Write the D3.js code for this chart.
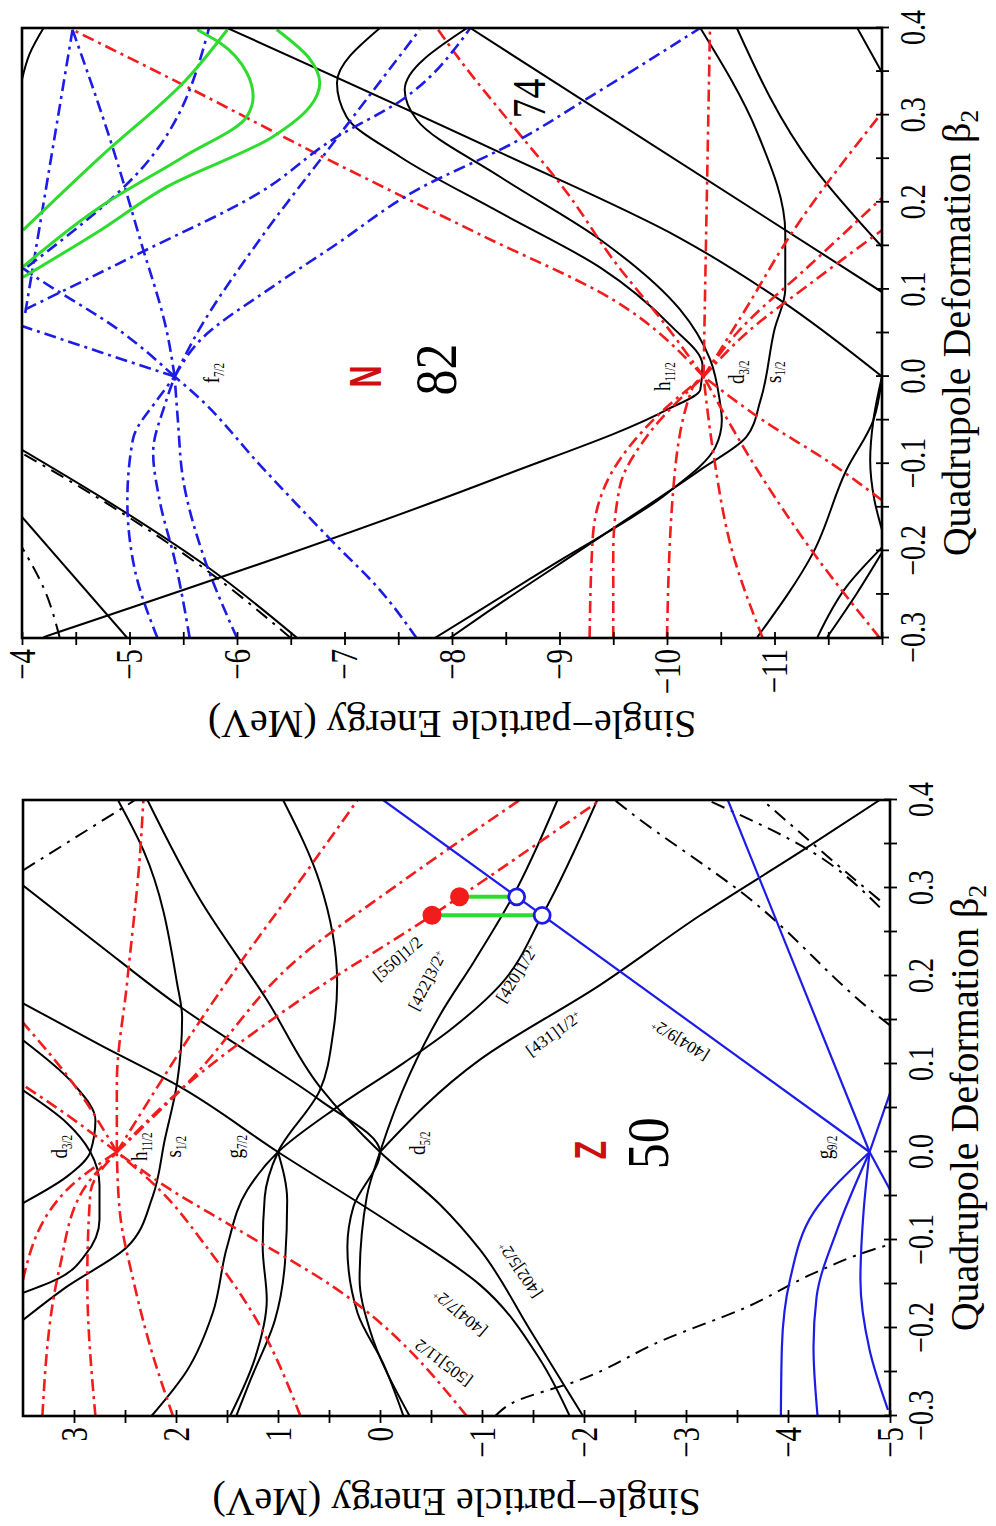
<!DOCTYPE html>
<html>
<head>
<meta charset="utf-8">
<script src="https://cdn.jsdelivr.net/npm/d3@7"></script>
<style>
body { margin: 0; background: #fff; }
text { font-family: "Liberation Serif", "Times New Roman", serif; }
</style>
</head>
<body>
<script>
var w = 996;
var h = 1526;

// ---------- axis ticks ----------
var betaTicks = [-0.3, -0.2, -0.1, 0.0, 0.1, 0.2, 0.3, 0.4];
var betaMinor = [-0.25, -0.15, -0.05, 0.05, 0.15, 0.25, 0.35];
var energyTicksN = [-4, -5, -6, -7, -8, -9, -10, -11];
var energyMinorN = [-4.5, -5.5, -6.5, -7.5, -8.5, -9.5, -10.5, -11.5, -12];
var energyTicksZ = [3, 2, 1, 0, -1, -2, -3, -4, -5];
var energyMinorZ = [2.5, 1.5, 0.5, -0.5, -1.5, -2.5, -3.5, -4.5];

// ---------- N = 82 panel : [beta2, energy] ----------
// green levels
var nGreenA = [[0.126,-4.01],[0.195,-4.73],[0.252,-5.5],[0.298,-6.09],[0.321,-6.15],[0.349,-6.09],[0.383,-5.84],[0.398,-5.63]];
var nGreenB = [[0.114,-4.01],[0.168,-4.73],[0.218,-5.35],[0.275,-6.33],[0.31,-6.68],[0.337,-6.77],[0.364,-6.68],[0.398,-6.37]];
var nGreenC = [[0.168,-4.01],[0.252,-4.73],[0.341,-5.53],[0.398,-5.91]];
// blue f7/2 family and others
var nBlue1 = [[0,-5.42],[0.028,-4.73],[0.058,-4.0]];
var nBlue2 = [[0,-5.42],[0.05,-4.94],[0.119,-4.07],[0.125,-4.0]];
var nBlue3 = [[0,-5.42],[0.05,-5.35],[0.157,-5.1],[0.272,-4.82],[0.398,-4.47]];
var nBlue4 = [[0,-5.42],[0.05,-5.63],[0.157,-6.21],[0.264,-6.87],[0.398,-7.7]];
var nBlue5 = [[0,-5.42],[0.042,-5.66],[0.103,-6.33],[0.149,-6.89],[0.214,-7.67],[0.268,-8.57],[0.326,-9.35],[0.4,-10.31]];
var nBlue6 = [[0.073,-4.03],[0.398,-4.47]];
var nBlue7 = [[0.126,-4.05],[0.241,-5.13],[0.4,-5.74]];
var nBlue8 = [[0.077,-4.03],[0.142,-5.1],[0.211,-6.21],[0.272,-6.89],[0.318,-7.54],[0.383,-8.07],[0.4,-8.17]];
var nBlueO1 = [[-0.3,-5.26],[-0.222,-5.05],[-0.142,-4.98],[-0.073,-5.03],[-0.023,-5.28],[0,-5.42]];
var nBlueO2 = [[-0.3,-5.56],[-0.21,-5.42],[-0.142,-5.28],[-0.087,-5.22],[-0.032,-5.33],[0,-5.42]];
var nBlueO3 = [[-0.3,-6.0],[-0.21,-5.7],[-0.119,-5.5],[-0.05,-5.45],[0,-5.42]];
var nBlueO4 = [[-0.3,-7.67],[-0.245,-7.33],[-0.187,-6.87],[-0.101,-6.21],[-0.026,-5.66],[0,-5.42]];
// red h11/2 family
var nRed1 = [[0,-10.34],[0.088,-9.5],[0.163,-8.26],[0.252,-6.8],[0.344,-5.35],[0.398,-4.47]];
var nRed2 = [[0,-10.34],[0.057,-10.0],[0.134,-9.5],[0.211,-9.07],[0.287,-8.57],[0.364,-8.07],[0.4,-7.86]];
var nRed3 = [[0,-10.34],[0.203,-10.37],[0.4,-10.4]];
var nRed4 = [[0,-10.34],[0.077,-10.73],[0.157,-11.12],[0.303,-12.0]];
var nRed5 = [[0,-10.34],[0.05,-10.65],[0.128,-11.33],[0.205,-12.0]];
var nRed6 = [[0,-10.34],[0.05,-10.74],[0.111,-11.38],[0.168,-12.0]];
var nRedO1 = [[-0.3,-10.0],[-0.127,-10.06],[-0.012,-10.24],[0,-10.34]];
var nRedO2 = [[-0.3,-10.89],[-0.202,-10.61],[-0.087,-10.43],[0,-10.34]];
var nRedO3 = [[-0.3,-11.98],[-0.202,-11.36],[-0.107,-10.84],[0,-10.34]];
var nRedO4 = [[-0.142,-12.0],[-0.099,-11.52],[-0.05,-10.89],[0,-10.34]];
var nRedO5 = [[-0.3,-9.5],[-0.202,-9.5],[-0.127,-9.56],[-0.069,-9.81],[0,-10.34]];
var nRedO6 = [[-0.3,-9.28],[-0.184,-9.31],[-0.107,-9.5],[-0.05,-9.87],[0,-10.34]];
// black positive parity
var nBlack1 = [[-0.299,-4.2],[-0.115,-8.45],[-0.038,-10.0],[-0.015,-10.31],[0.013,-10.33],[0.059,-10.03],[0.125,-9.38],[0.188,-8.45],[0.252,-7.52],[0.298,-7.02],[0.337,-6.93],[0.4,-7.33]];
var nBlack2 = [[-0.3,-7.84],[-0.268,-8.26],[-0.218,-8.91],[-0.134,-10.0],[-0.081,-10.45],[-0.05,-10.51],[-0.027,-10.49],[0.02,-10.4],[0.077,-10.12],[0.157,-9.38],[0.229,-8.45],[0.295,-7.67],[0.329,-7.56],[0.4,-8.14]];
var nBlack3 = [[-0.3,-7.98],[-0.276,-8.26],[-0.184,-9.38],[-0.107,-10.31],[-0.069,-10.74],[-0.027,-10.87],[0.054,-11.0],[0.1,-11.1],[0.165,-11.1],[0.28,-10.84],[0.4,-10.31]];
var nBlack4 = [[0.097,-12.0],[0.4,-8.17]];
var nBlack5 = [[0,-12.0],[0.088,-11.05],[0.159,-10.12],[0.257,-8.45],[0.4,-5.91]];
var nBlack6 = [[0.149,-12.0],[0.241,-11.36],[0.4,-10.65]];
var nBlack7 = [[0.349,-12.0],[0.4,-11.77]];
var nBlack8 = [[-0.299,-10.84],[-0.202,-11.36],[-0.107,-11.67],[-0.05,-11.92],[0,-12.0]];
var nBlack9 = [[-0.176,-12.0],[-0.142,-11.93],[-0.096,-11.89],[-0.05,-11.92],[0,-12.0]];
var nBlack10 = [[-0.299,-11.4],[-0.241,-11.67],[-0.196,-12.0]];
var nBlack11 = [[-0.299,-11.49],[-0.248,-11.77],[-0.202,-12.0]];
var nBlack12 = [[0.341,-4.0],[0.37,-4.07],[0.4,-4.2]];
var nBlack13 = [[-0.3,-6.56],[-0.218,-5.72],[-0.138,-4.73],[-0.084,-4.0]];
var nBlack14 = [[-0.3,-4.98],[-0.161,-4.0]];
var nDash1 = [[-0.3,-6.5],[-0.218,-5.67],[-0.138,-4.69],[-0.088,-4.0]];
var nDash2 = [[-0.299,-4.35],[-0.245,-4.21],[-0.196,-4.0]];

// ---------- Z = 50 panel : [beta2, energy] ----------
var zBlue1 = [[0,-4.8],[0.4,-0.03]];
var zBlue2 = [[0,-4.8],[0.4,-3.41]];
var zBlue3 = [[0,-4.8],[0.067,-5.0]];
var zBlue4 = [[-0.043,-5.0],[0,-4.8]];
var zBlueO1 = [[-0.3,-3.93],[-0.222,-3.94],[-0.145,-4.02],[-0.069,-4.25],[0,-4.8]];
var zBlueO2 = [[-0.3,-4.29],[-0.222,-4.25],[-0.165,-4.28],[-0.089,-4.48],[0,-4.8]];
var zBlueO3 = [[-0.293,-4.98],[-0.225,-4.8],[-0.145,-4.71],[-0.069,-4.74],[0,-4.8]];
var zRedA = [[0,2.58],[0.078,2.16],[0.127,1.89],[0.215,1.37],[0.309,0.78],[0.4,0.22]];
var zRedB = [[0,2.58],[0.078,1.89],[0.222,0.78],[0.306,-0.2],[0.4,-1.37]];
var zRed550 = [[0,2.58],[0.07,1.96],[0.173,0.78],[0.269,-0.51],[0.29,-0.78],[0.4,-2.16]];
var zRedFlat = [[0,2.58],[0.078,2.58],[0.192,2.48],[0.343,2.35],[0.4,2.32]];
var zRedUp1 = [[0,2.58],[0.078,3.01],[0.147,3.5]];
var zRedUp2 = [[0,2.58],[0.048,3.14],[0.076,3.5]];
var zRedO1 = [[-0.3,2.03],[-0.222,2.25],[-0.145,2.42],[-0.069,2.55],[0,2.58]];
var zRedO2 = [[-0.3,0.78],[-0.183,1.25],[-0.108,1.7],[-0.043,2.16],[0,2.58]];
var zRed505 = [[-0.3,-0.85],[-0.153,0.46],[-0.085,1.44],[-0.04,2.09],[0,2.58]];
var zRedO4 = [[-0.3,3.31],[-0.131,3.14],[-0.043,2.91],[0,2.58]];
var zRedO5 = [[-0.3,2.79],[-0.145,2.87],[-0.047,2.84],[0,2.58]];
var zRedO6 = [[-0.145,3.5],[-0.043,3.07],[0,2.58]];
var z404 = [[-0.3,-1.86],[-0.236,-1.57],[-0.151,-0.98],[-0.083,-0.13],[0,1.0],[0.074,1.96],[0.122,2.75],[0.169,3.5]];
var z402 = [[-0.3,-1.99],[-0.202,-1.47],[-0.111,-0.98],[-0.06,-0.59],[0,0.0],[0.074,0.59],[0.173,1.11],[0.286,1.76],[0.4,2.28]];
var zD52b = [[-0.3,-0.23],[-0.24,-0.03],[-0.183,0.22],[-0.108,0.32],[-0.062,0.26],[0,0.0],[0.059,0.59],[0.105,1.18],[0.165,1.96],[0.235,2.75],[0.303,3.5]];
var z422 = [[-0.3,-0.29],[-0.202,0.1],[-0.145,0.2],[-0.051,0.13],[0,0.0],[0.088,-0.29],[0.156,-0.59],[0.218,-0.93],[0.29,-1.3],[0.4,-1.74]];
var z431 = [[0,0.0],[0.105,-0.98],[0.19,-2.16],[0.269,-3.14],[0.341,-4.12],[0.4,-4.9]];
var z420 = [[-0.3,2.24],[-0.248,1.89],[-0.183,1.64],[-0.108,1.5],[-0.043,1.3],[0,1.0],[0.051,0.42],[0.101,-0.23],[0.139,-0.69],[0.19,-1.18],[0.269,-1.59],[0.4,-2.13]];
var zG72b = [[-0.3,1.47],[-0.236,1.23],[-0.168,1.11],[-0.108,1.15],[-0.051,1.13],[0,1.0],[0.07,0.59],[0.135,0.46],[0.192,0.42],[0.306,0.59],[0.4,0.95]];
var zG72c = [[-0.3,1.41],[-0.259,1.27],[-0.191,1.03],[-0.123,0.93],[-0.055,0.91],[0,1.0]];
var zS12 = [[-0.191,3.5],[-0.153,3.07],[-0.108,2.48],[-0.051,2.23],[0.014,2.11],[0.078,1.99],[0.153,1.94],[0.192,1.99],[0.343,2.32],[0.4,2.57]];
var zD32a = [[-0.16,3.5],[-0.143,3.14],[-0.117,2.89],[-0.077,2.75],[-0.038,2.75],[0,2.84],[0.033,3.07],[0.07,3.5]];
var zD32b = [[-0.058,3.5],[-0.028,3.07],[0,2.84],[0.036,2.79],[0.078,3.01],[0.127,3.5]];
var zDash1 = [[0.32,3.5],[0.4,2.4]];
var zDash2 = [[0.144,-5.0],[0.153,-4.9],[0.29,-3.6],[0.389,-2.42],[0.4,-2.3]];
var zDash3 = [[0.278,-4.9],[0.34,-4.25],[0.4,-3.21]];
var zDash4 = [[0.286,-4.9],[0.317,-4.58],[0.4,-3.75]];
var zDash5 = [[-0.3,-1.13],[-0.285,-1.3],[-0.259,-1.96],[-0.214,-2.77],[-0.176,-3.6],[-0.138,-4.25],[-0.111,-4.83],[-0.105,-5.0]];
var zRedDots = [[0.29,-0.78],[0.269,-0.51]];
var zBlueRings = [[0.29,-1.34],[0.269,-1.59]];

// ---------- annotations ----------
var nSpherical = [["f","7/2",0.004,-5.77],["h","11/2",0,-9.96],["d","3/2",0.005,-10.65],["s","1/2",0.005,-10.99]];
var zSpherical = [["d","3/2",0.006,3.14],["h","11/2",0.006,2.35],["s","1/2",0.006,2.02],["g","7/2",0.006,1.42],["d","5/2",0.01,-0.37],["g","9/2",0.005,-4.36]];
var zNilsson = [
  ["[550]1/2", "", 0.22, -0.17, 50],
  ["[422]3/2", "+", 0.195, -0.46, 27],
  ["[420]1/2", "+", 0.203, -1.34, 32],
  ["[431]1/2", "+", 0.135, -1.70, 54],
  ["[404]9/2", "+", 0.127, -2.94, -58],
  ["[402]5/2", "+", -0.134, -1.37, -34],
  ["[404]7/2", "+", -0.183, -0.78, -50],
  ["[505]11/2", "", -0.24, -0.62, -53]
];

var styles = {
  black: { stroke: "#000", width: 2, dash: null },
  dash:  { stroke: "#000", width: 2, dash: "14,7,3,7" },
  red:   { stroke: "#f21c1c", width: 2.6, dash: "12,5,3,5" },
  blue:  { stroke: "#1c1ce6", width: 2.6, dash: "12,5,3,5" },
  blueSolid: { stroke: "#1c1ce6", width: 2.2, dash: null },
  green: { stroke: "#2edc2e", width: 3, dash: null }
};

var panels = [
  { id: "n", left: 22, bottom: 638, width: 610, height: 860, eDomain: [-12, -4],
    eTicks: energyTicksN, eMinor: energyMinorN,
    series: [
      { style: "dash", levels: [nDash1, nDash2] },
      { style: "black", levels: [nBlack1, nBlack2, nBlack3, nBlack4, nBlack5, nBlack6, nBlack7, nBlack8, nBlack9, nBlack10, nBlack11, nBlack12, nBlack13, nBlack14] },
      { style: "red", levels: [nRed1, nRed2, nRed3, nRed4, nRed5, nRed6, nRedO1, nRedO2, nRedO3, nRedO4, nRedO5, nRedO6] },
      { style: "blue", levels: [nBlue1, nBlue2, nBlue3, nBlue4, nBlue5, nBlue6, nBlue7, nBlue8, nBlueO1, nBlueO2, nBlueO3, nBlueO4] },
      { style: "green", levels: [nGreenA, nGreenB, nGreenC] }
    ],
    spherical: nSpherical,
    letter: ["N", 0.0, -7.19], magic: ["82", 0.008, -7.85], extra: ["74", 0.319, -8.72]
  },
  { id: "z", left: 23, bottom: 1416, width: 616, height: 867, eDomain: [-5, 3.5],
    eTicks: energyTicksZ, eMinor: energyMinorZ,
    series: [
      { style: "dash", levels: [zDash1, zDash2, zDash3, zDash4, zDash5] },
      { style: "black", levels: [z404, z402, zD52b, z422, z431, z420, zG72b, zG72c, zS12, zD32a, zD32b] },
      { style: "red", levels: [zRedA, zRedB, zRed550, zRedFlat, zRedUp1, zRedUp2, zRedO1, zRedO2, zRed505, zRedO4, zRedO5, zRedO6] },
      { style: "blueSolid", levels: [zBlue1, zBlue2, zBlue3, zBlue4, zBlueO1, zBlueO2, zBlueO3] }
    ],
    spherical: zSpherical,
    letter: ["Z", 0.002, -2.06], magic: ["50", 0.01, -2.62]
  }
];

var svg = d3.select("body").append("svg")
            .attr("width", w)
            .attr("height", h)
            .style("background", "#fff");

var fmtBeta = d3.format(".1f");
var fmtE = d3.format("d");

panels.forEach(function(p) {
  // the figure is turned a quarter turn counter-clockwise
  var g = svg.append("g")
             .attr("transform", "translate(" + p.left + "," + p.bottom + ") rotate(-90)");

  var x = d3.scaleLinear().domain([-0.3, 0.4]).range([0, p.width]);
  var y = d3.scaleLinear().domain(p.eDomain).range([p.height, 0]);

  g.append("clipPath").attr("id", "clip-" + p.id)
   .append("rect").attr("width", p.width).attr("height", p.height);

  var plot = g.append("g").attr("clip-path", "url(#clip-" + p.id + ")");

  var line = d3.line()
               .x(function(d) { return x(d[0]); })
               .y(function(d) { return y(d[1]); })
               .curve(d3.curveMonotoneX);

  p.series.forEach(function(s) {
    var st = styles[s.style];
    s.levels.forEach(function(lv) {
      var pts = lv.slice().sort(function(a, b) { return a[0] - b[0]; });
      plot.append("path")
          .datum(pts)
          .attr("d", line)
          .attr("fill", "none")
          .attr("stroke", st.stroke)
          .attr("stroke-width", st.width)
          .attr("stroke-dasharray", st.dash)
          .attr("stroke-linejoin", "round");
    });
  });

  // gap markers (Z panel only)
  if (p.id === "z") {
    zRedDots.forEach(function(d, i) {
      plot.append("line")
          .attr("x1", x(d[0])).attr("x2", x(zBlueRings[i][0]))
          .attr("y1", y(d[1])).attr("y2", y(zBlueRings[i][1]))
          .attr("stroke", "#2edc2e").attr("stroke-width", 4);
    });
    plot.selectAll("circle.red").data(zRedDots).enter().append("circle")
        .attr("cx", function(d) { return x(d[0]); })
        .attr("cy", function(d) { return y(d[1]); })
        .attr("r", 9.5).attr("fill", "#f21c1c");
    plot.selectAll("circle.ring").data(zBlueRings).enter().append("circle")
        .attr("cx", function(d) { return x(d[0]); })
        .attr("cy", function(d) { return y(d[1]); })
        .attr("r", 8).attr("fill", "#fff")
        .attr("stroke", "#1c1ce6").attr("stroke-width", 2.8);

    zNilsson.forEach(function(n) {
      var t = g.append("text")
               .attr("transform", "translate(" + x(n[2]) + "," + y(n[3]) + ") rotate(" + n[4] + ")")
               .attr("text-anchor", "middle")
               .attr("dy", "0.35em")
               .attr("font-size", 17)
               .text(n[0]);
      if (n[1]) t.append("tspan").attr("dy", "-0.5em").attr("font-size", 10).text(n[1]);
    });
  }

  // spherical labels
  p.spherical.forEach(function(s) {
    var t = g.append("text")
             .attr("transform", "translate(" + x(s[2]) + "," + y(s[3]) + ") scale(1,1.25)")
             .attr("text-anchor", "middle")
             .attr("dy", "0.3em")
             .attr("font-size", 19)
             .text(s[0]);
    t.append("tspan").attr("dy", "0.35em").attr("font-size", 11).text(s[1]);
  });

  // big labels
  g.append("text")
   .attr("transform", "translate(" + x(p.letter[1]) + "," + y(p.letter[2]) + ") scale(0.9,1.3)")
   .attr("text-anchor", "middle").attr("dy", "0.36em")
   .style("font-family", "'Liberation Sans', Arial, sans-serif")
   .attr("font-weight", "bold").attr("font-size", 34)
   .attr("fill", "#cc1010")
   .text(p.letter[0]);
  g.append("text")
   .attr("transform", "translate(" + x(p.magic[1]) + "," + y(p.magic[2]) + ") scale(1,1.15)")
   .attr("text-anchor", "middle").attr("dy", "0.34em")
   .attr("font-size", 52)
   .text(p.magic[0]);
  if (p.extra) {
    g.append("text")
     .attr("transform", "translate(" + x(p.extra[1]) + "," + y(p.extra[2]) + ") scale(1,1.15)")
     .attr("text-anchor", "middle").attr("dy", "0.34em")
     .attr("font-size", 40)
     .text(p.extra[0]);
  }

  // frame
  g.append("rect")
   .attr("width", p.width).attr("height", p.height)
   .attr("fill", "none").attr("stroke", "#000").attr("stroke-width", 2.6);

  // beta2 axis (bottom of the unrotated figure)
  var bx = g.append("g").attr("transform", "translate(0," + p.height + ")")
            .call(d3.axisBottom(x)
                    .tickValues(betaTicks.concat(betaMinor))
                    .tickSizeInner(7).tickSizeOuter(0)
                    .tickFormat(function(d) { return betaTicks.indexOf(d) >= 0 ? fmtBeta(d) : ""; }));
  bx.select(".domain").remove();
  bx.selectAll(".tick line").attr("y1", -6).attr("y2", 7).attr("stroke", "#000").attr("stroke-width", 1.8);
  bx.selectAll(".tick text")
    .attr("y", null).attr("dy", null)
    .attr("transform", "translate(0,43) scale(1,1.3)")
    .attr("font-family", "'Liberation Serif', serif")
    .attr("font-size", 28).attr("fill", "#000");

  // energy axis (left of the unrotated figure)
  var ey = g.append("g")
            .call(d3.axisLeft(y)
                    .tickValues(p.eTicks.concat(p.eMinor))
                    .tickSizeInner(7).tickSizeOuter(0)
                    .tickFormat(function(d) { return p.eTicks.indexOf(d) >= 0 ? fmtE(d) : ""; }));
  ey.select(".domain").remove();
  ey.selectAll(".tick line").attr("x1", 6).attr("x2", -7).attr("stroke", "#000").attr("stroke-width", 1.8);
  ey.selectAll(".tick text")
    .attr("x", null).attr("dy", null)
    .attr("transform", "translate(-11,12) scale(1,1.3)")
    .attr("font-family", "'Liberation Serif', serif")
    .attr("font-size", 29).attr("fill", "#000");

  // axis titles
  var tb = g.append("text")
            .attr("x", p.width / 2).attr("y", p.height + 88)
            .attr("text-anchor", "middle")
            .attr("font-size", 40)
            .text("Quadrupole Deformation \u03b2");
  tb.append("tspan").attr("dy", "0.3em").attr("font-size", 26).text("2");

  g.append("text")
   .attr("transform", "translate(-73," + (p.height / 2) + ") rotate(-90)")
   .attr("text-anchor", "middle")
   .attr("font-size", 40)
   .text("Single\u2212particle Energy (MeV)");
});
</script>
</body>
</html>
